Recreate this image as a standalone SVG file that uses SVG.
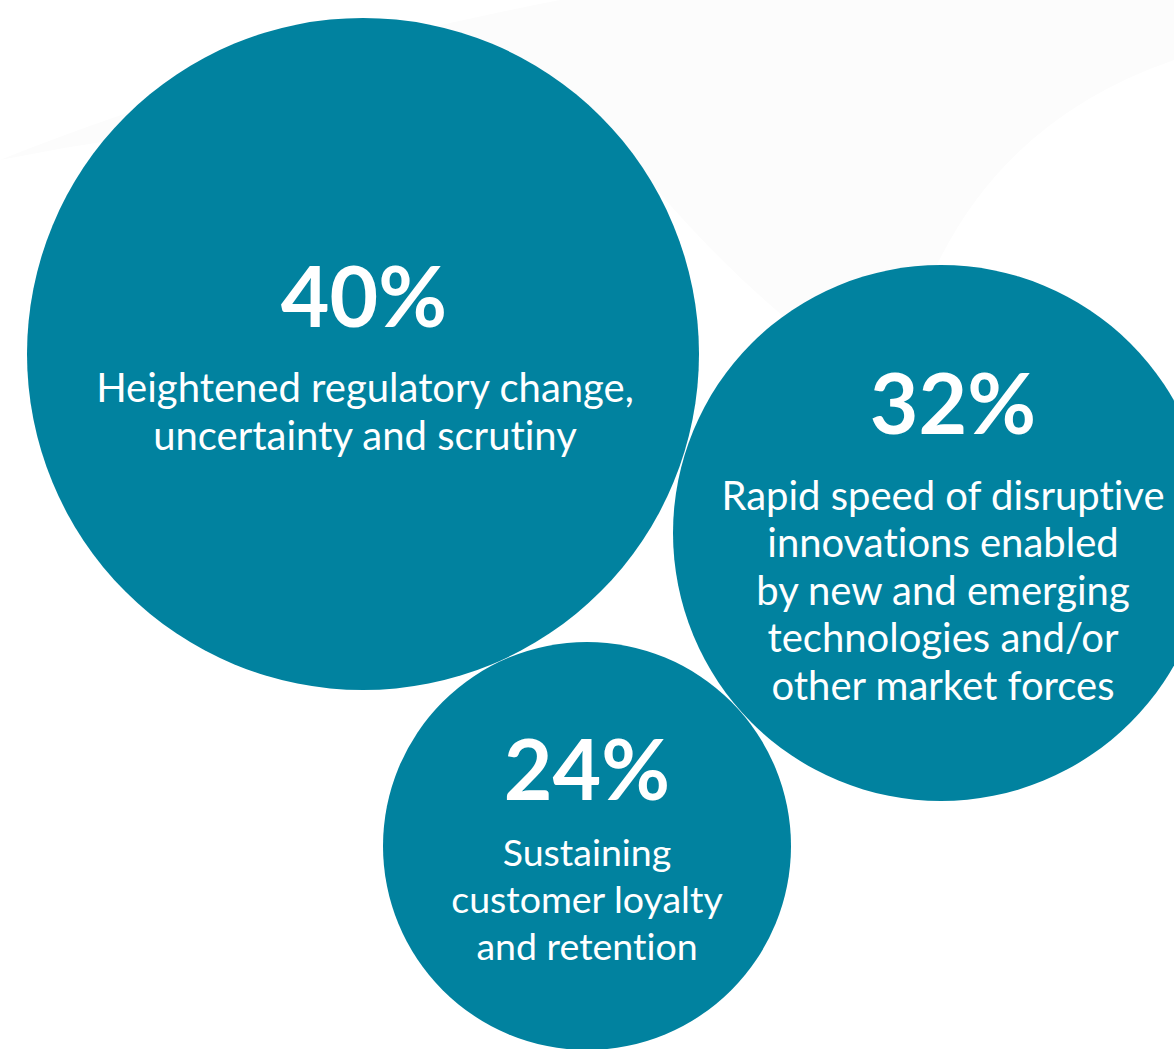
<svg xmlns="http://www.w3.org/2000/svg" width="1174" height="1049" viewBox="0 0 1174 1049">
<style>
.c{fill:#01829f}
.p{font-family:Lato,"Open Sans",sans-serif;font-weight:700;font-size:84px;fill:#fff;text-anchor:middle}
.t{font-family:Lato,"Open Sans",sans-serif;font-weight:400;font-size:40px;fill:#fff;text-anchor:middle;font-variant-ligatures:none}
.s{font-size:37.5px}
</style>
<rect width="1174" height="1049" fill="#fff"/>
<path d="M0 160 Q250 60 560 0 L1174 0 L1174 60 Q1000 120 930 280 L800 330 Q700 250 600 120 Q300 100 0 160 Z" fill="#fcfcfc"/>
<g id="node-40">
<circle class="c" cx="363" cy="354" r="336"/>
<text class="p" x="364" y="327">40%</text>
<text class="t" x="365" y="402">Heightened regulatory change,</text>
<text class="t" x="365" y="450">uncertainty and scrutiny</text>
</g>
<g id="node-32">
<circle class="c" cx="941" cy="533" r="268"/>
<text class="p" x="953" y="434">32%</text>
<text class="t" x="943" y="510">Rapid speed of disruptive</text>
<text class="t" x="943" y="557">innovations enabled</text>
<text class="t" x="943" y="605">by new and emerging</text>
<text class="t" x="943" y="652">technologies and/or</text>
<text class="t" x="943" y="700">other market forces</text>
</g>
<g id="node-24">
<circle class="c" cx="587" cy="846" r="204"/>
<text class="p" x="587" y="800">24%</text>
<text class="t s" x="587" y="866">Sustaining</text>
<text class="t s" x="587" y="913">customer loyalty</text>
<text class="t s" x="587" y="960">and retention</text>
</g>
<g id="connectors"/>
</svg>
